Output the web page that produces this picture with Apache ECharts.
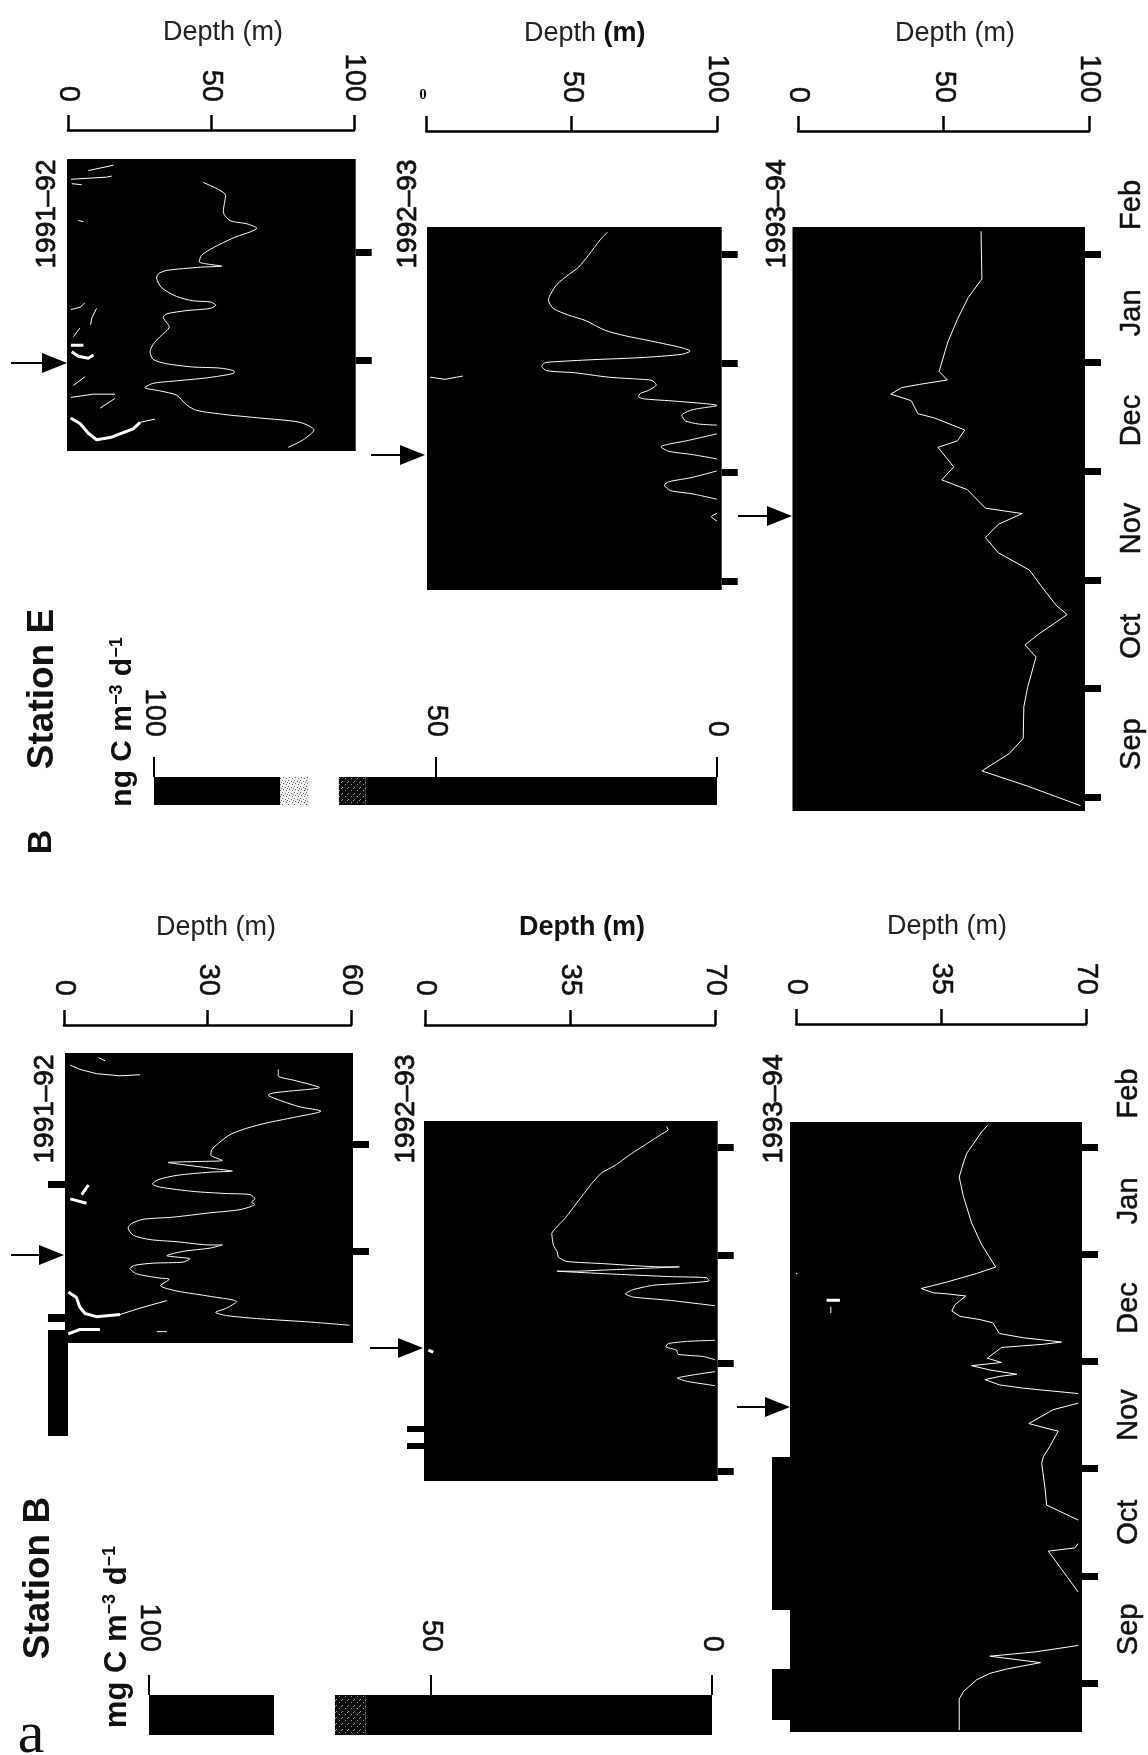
<!DOCTYPE html>
<html><head><meta charset="utf-8">
<style>html,body{margin:0;padding:0;background:#fff}#c{width:1148px;height:1755px}</style>
<script src="https://cdn.jsdelivr.net/npm/echarts@6/dist/echarts.min.js"></script>
</head><body><div id="c"></div>
<script>
const gap = [null, null];
const months = ['Sep','Oct','Nov','Dec','Jan','Feb'];
const depthE = [0, 50, 100];
const depthB91 = [0, 30, 60];
const depthB = [0, 35, 70];
const rateTicks = [0, 50, 100];
const segE = [62.4, 4.8, 5.3, 5.1, 22.4];
const segB = [61.5, 5.5, 10.8, 0, 22.2];

const lineE91 = [[47.3,5.64],[55.1,5.52],[54.3,5.37],[56.6,5.29],[62.5,5.26],[66,5.22],[57.8,5.13],[50.8,5.04],[46.7,4.97],[45.9,4.91],[48.5,4.89],[53.7,4.87],[46.2,4.86],[34.5,4.83],[31.6,4.8],[31,4.76],[32.8,4.67],[38,4.59],[43.8,4.55],[49.7,4.54],[51.7,4.51],[49.7,4.48],[41.5,4.46],[34.5,4.43],[33.3,4.4],[35.4,4.31],[32.2,4.22],[29.8,4.15],[28.7,4.08],[29.8,4.01],[34.5,3.97],[43.8,3.94],[53.1,3.93],[58.2,3.9],[57.8,3.88],[48.5,3.84],[36.8,3.81],[29.8,3.79],[26.9,3.75],[32.2,3.72],[38,3.68],[41.5,3.59],[45,3.54],[55.5,3.5],[67.1,3.47],[81.1,3.43],[86,3.36],[82.3,3.27],[77,3.2]];
const thinE91 = [[1,5.67],[13.5,5.69],[15.3,5.7],gap,[7.1,5.75],[15.9,5.8],gap,[1.3,5.63],[4.8,5.62],gap,[3.6,5.29],[5.4,5.28],gap,[1,4.47],[4.2,4.49],[5.9,4.53],gap,[10,4.48],[8.3,4.39],[7.9,4.33],gap,[4.2,4.3],[1.9,4.22],gap,[1.9,3.77],[5.9,3.85],gap,[1,3.66],[8.9,3.69],[16.4,3.69],gap,[11.2,3.56],[16.4,3.65],gap,[25.2,3.43],[30.4,3.46]];
const thickE91 = [[0.9,3.47],[4.2,3.42],[7.1,3.33],[10,3.27],[14.7,3.29],[22.8,3.37],[25.2,3.43],gap,[1,4.14],[5.4,4.14],gap,[1.3,4.08],[3.6,4.04],[7.1,4.02],[8.9,4.05]];

const lineE92 = [[62.3,5.2],[59.8,5.13],[55.8,4.99],[52.4,4.88],[48.9,4.81],[44.9,4.72],[42.9,4.64],[42,4.58],[43.7,4.5],[48.9,4.44],[54.7,4.39],[61.5,4.3],[68.4,4.25],[77.6,4.2],[87.9,4.14],[90.8,4.11],[87.9,4.08],[74.2,4.05],[56.9,4.03],[43.2,4.01],[40.6,4],[39.7,3.97],[41.4,3.93],[51.2,3.91],[62.7,3.87],[74.2,3.85],[77.6,3.84],[79.1,3.8],[76.5,3.75],[73.6,3.72],[73,3.69],[75.3,3.67],[85.6,3.65],[100,3.61],[91.4,3.57],[87.9,3.52],[89.1,3.47],[93.7,3.44],[100,3.43],gap,[100,3.35],[90.2,3.29],[80.7,3.23],[83.4,3.19],[91.4,3.16],[100,3.12],gap,[100,3.01],[91.4,2.95],[83.4,2.91],[81.9,2.88],[83.9,2.83],[91.4,2.8],[100,2.75],gap,[100,2.62],[98,2.59],[100,2.55]];
const thinE92 = [[1.3,3.87],[6.4,3.85],[10.4,3.87],[12.5,3.88]];

const lineE93 = [[62.9,5.21],[63.2,4.77],[58.5,4.6],[54.8,4.4],[51.5,4.19],[48.5,3.92],[51.3,3.84],[41.8,3.8],[35.6,3.77],[31.9,3.71],[38.9,3.65],[41.2,3.53],[46.9,3.49],[57.3,3.38],[54.8,3.28],[48.1,3.22],[53.5,3.04],[49.4,2.92],[58.2,2.83],[64.4,2.66],[77,2.61],[68.8,2.51],[64.4,2.39],[68.8,2.25],[79.5,2.09],[84.5,1.91],[88.9,1.76],[92.5,1.68],[82.7,1.5],[78,1.4],[81.8,1.29],[78.9,1.01],[77.6,0.83],[77.4,0.54],[72.6,0.4],[63.2,0.24],[78.9,0.1],[97.1,-0.08]];

const lineB91 = [[44.8,5.7],[44.8,5.64],[47.9,5.6],[51.4,5.56],[53.4,5.53],[47.9,5.5],[43.8,5.48],[42.7,5.46],[45.2,5.41],[49.3,5.35],[53.7,5.31],[47.9,5.25],[42.4,5.2],[38.2,5.15],[34.7,5.09],[32.3,5.01],[30.9,4.95],[30.7,4.9],[33.1,4.85],[28.4,4.84],[21.8,4.83],[24.9,4.81],[31.9,4.77],[35.2,4.75],[30.5,4.74],[23.6,4.71],[19.7,4.67],[18.5,4.63],[20.1,4.6],[27,4.56],[34,4.54],[38.9,4.53],[39.9,4.49],[39.2,4.46],[39.9,4.44],[36.8,4.39],[30.5,4.36],[22.9,4.32],[16.6,4.3],[14.1,4.26],[13.4,4.22],[14.5,4.15],[18,4.11],[23.6,4.09],[30.5,4.06],[33.1,4.06],[30.5,4.03],[24.9,4],[21.5,3.96],[26.3,3.93],[24.9,3.9],[18.7,3.89],[14.8,3.87],[13.8,3.84],[15.2,3.79],[20.1,3.75],[22,3.74],[20.2,3.68],[23.6,3.63],[30.5,3.58],[36.1,3.53],[34,3.47],[31.7,3.43],[34,3.4],[41,3.37],[51.4,3.34],[59.7,3.31]];
const thinB91 = [[11.7,3.41],[15.9,3.47],[21.5,3.54],gap,[19.4,3.25],[21.5,3.25],gap,[7.2,5.81],[8.6,5.78],gap,[1.3,5.74],[3.3,5.7],[6.8,5.66],[11.7,5.64],[15.9,5.65]];
const thickB91 = [[0.9,3.62],[2.6,3.57],[3.3,3.48],[4.4,3.42],[6.8,3.39],[11.7,3.41],gap,[0.9,3.23],[3.3,3.27],[7.5,3.27],gap,[5.1,4.62],[3.7,4.53],gap,[1.3,4.49],[4.7,4.45]];

const lineB92 = [[58.3,5.19],[58.7,5.16],[56.7,5.11],[53.5,5.03],[49.5,4.93],[45.9,4.83],[42.6,4.76],[40.2,4.66],[38.2,4.56],[36.2,4.46],[33.8,4.34],[31.8,4.26],[30.6,4.2],[31,4.09],[31.9,4.03],[32.2,3.98],[34.2,3.94],[43,3.92],[51.1,3.9],[56.7,3.89],[61.4,3.89],[55.1,3.88],[43,3.86],[36.6,3.85],[31.9,3.85],[36.6,3.84],[47.1,3.82],[59.1,3.8],[68,3.79],[68.6,3.76],[63.2,3.74],[55.1,3.72],[50.3,3.68],[48.3,3.64],[50.3,3.61],[59.1,3.58],[70,3.53],gap,[70,3.21],[63.2,3.2],[58.7,3.18],[58.1,3.15],[60.7,3.12],[61.1,3.08],[67.2,3.06],[70,3.03],gap,[70,2.92],[64.8,2.89],[60.9,2.86],[63.2,2.83],[70,2.79]];
const thickB92 = [[0.8,3.12],[2,3.1]];

const lineB93 = [[46.2,5.2],[44.8,5.14],[43.2,5.05],[41.2,4.94],[40.4,4.85],[39.4,4.72],[40.4,4.54],[42.4,4.29],[44.8,4.09],[48.2,3.88],[43.6,3.82],[36.4,3.74],[30.2,3.68],[33.1,3.64],[36.4,3.63],[41,3.61],[38.4,3.53],[37.6,3.47],[39.6,3.42],[44.4,3.39],[47.5,3.36],[49.1,3.26],[54.9,3.22],[59.7,3.2],[64.1,3.18],[59.7,3.16],[49.6,3.13],[46.2,3.03],[49.6,2.99],[42.4,2.96],[46.8,2.92],[53.3,2.88],[49.2,2.86],[45.6,2.83],[49.2,2.78],[54.9,2.75],[68.1,2.7],gap,[68.1,2.61],[62.1,2.55],[56.2,2.42],[62.1,2.36],[63.3,2.35],[61.3,2.21],[59.7,2.11],[59.3,2.05],[60.1,1.82],[60.5,1.66],[68.1,1.52],gap,[68.1,1.3],[67.3,1.26],[60.9,1.23],[68.1,0.85],gap,[68.1,0.35],[57.7,0.29],[46.8,0.25],[59,0.19],[50.8,0.13],[46.8,0.09],[43.6,0.03],[40.4,-0.08],[39.4,-0.15],[39.4,-0.44]];
const thinB93 = [[0,3.82],[0.3,3.82],gap,[8.4,3.51],[8.4,3.45]];
const thickB93 = [[7.4,3.57],[10.6,3.57]];

// geometry: rect = black panel [left,right,top,bottom]; axis = depth scale [left,right,lineY]
const panels = [
 {rect:[67,355.7,159,451],  axis:[68,354,130],  t:[3.166,5.857], ticks:[4,5],         depth:depthE, name:'Depth (m)', nameDx:12, margin:28, smooth:0.25, lines:[lineE91], extra:[thinE91], thick:thickE91},
 {rect:[427,721.7,227,590], axis:[426.4,717,131], t:[1.917,5.248], ticks:[2,3,4,5],   depth:depthE, name:'Depth {b|(m)}', nameDx:13, margin:28, smooth:0.25, lines:[lineE92], extra:[thinE92], noZero:true},
 {rect:[792.5,1085,227,811],axis:[798,1089,131], t:[-0.129,5.249], ticks:[0,1,2,3,4,5], depth:depthE, name:'Depth (m)', nameDx:11.5, margin:28, smooth:0, lines:[lineE93], extra:[]},
 {rect:[65,353,1053,1343],  axis:[64,351,1025], t:[3.144,5.853], ticks:[4,5],         depth:depthB91, name:'Depth (m)', nameDx:8.5, margin:29, smooth:0.25, lines:[lineB91], extra:[thinB91], thick:thickB91},
 {rect:[424,717.7,1121,1481],axis:[425,715,1025],t:[1.907,5.241], ticks:[2,3,4,5],    depth:depthB, name:'{c|Depth} {b|(m)}', nameDx:12, margin:29, smooth:0.15, lines:[lineB92], extra:[], thick:thickB92},
 {rect:[790,1082,1122,1732],axis:[796,1086,1024],t:[-0.457,5.233], ticks:[0,1,2,3,4,5], depth:depthB, name:'Depth (m)', nameDx:6, margin:29, smooth:0, lines:[lineB93], extra:[thinB93], thick:thickB93}
];
const FONT = '"Liberation Sans", Arial, sans-serif';
const W = 1148, H = 1755;
function box(l,r,t,b){return {left:l, top:t, width:r-l, height:b-t, show:false, outerBoundsMode:'none', containLabel:false};}

const grid=[], xAxis=[], yAxis=[], series=[];
const tickLabelStyle={fontFamily:FONT,fontSize:29,color:'#111',rotate:90,textBorderColor:'#111',textBorderWidth:0.5};

panels.forEach(p=>{
  const bg = grid.length;
  grid.push(Object.assign(box(p.rect[0],p.rect[1],p.rect[2],p.rect[3]),{show:true,backgroundColor:'#000',borderWidth:0}));
  xAxis.push({gridIndex:bg,type:'value',show:false,min:0,max:1,splitLine:{show:false}});
  yAxis.push({gridIndex:bg,type:'value',position:'right',min:p.t[0],max:p.t[1],scale:true,
    axisLine:{show:false,onZero:false},axisLabel:{show:false},splitLine:{show:false},
    axisTick:{show:true,length:16,customValues:p.ticks,lineStyle:{color:'#000',width:7}}});
  const g = grid.length;
  grid.push(box(p.axis[0],p.axis[1],p.rect[2],p.rect[3]));
  const M = p.depth[2];
  xAxis.push({gridIndex:g,type:'value',position:'top',offset:p.rect[2]-p.axis[2],min:0,max:M,interval:M/2,
    splitLine:{show:false},
    axisLine:{show:true,onZero:false,lineStyle:{color:'#000',width:2.5}},
    axisTick:{show:true,length:15,lineStyle:{color:'#000',width:2.5}},
    axisLabel:Object.assign({},tickLabelStyle,{margin:p.margin,formatter:v=>(p.noZero&&v===0)?'':String(v)}),
    name:p.name,nameLocation:'middle',nameGap:84,nameRotate:0,
    nameTextStyle:{fontFamily:FONT,fontSize:27,color:'#222',padding:[0,0,0,2*p.nameDx],
      rich:{b:{fontFamily:FONT,fontSize:27,fontWeight:'bold',color:'#111'},c:{fontFamily:FONT,fontSize:27,fontWeight:'bold',color:'#111'}}}});
  yAxis.push({gridIndex:g,type:'value',show:false,min:p.t[0],max:p.t[1],scale:true,splitLine:{show:false}});
  p.lines.forEach(d=>series.push({type:'line',xAxisIndex:g,yAxisIndex:g,data:d,showSymbol:false,symbol:'none',smooth:p.smooth,
    silent:true,connectNulls:false,lineStyle:{color:'#fff',width:1},z:5}));
  p.extra.forEach(d=>series.push({type:'line',xAxisIndex:g,yAxisIndex:g,data:d,showSymbol:false,symbol:'none',
    silent:true,connectNulls:false,lineStyle:{color:'#fff',width:1},z:5}));
  if(p.thick) series.push({type:'line',xAxisIndex:g,yAxisIndex:g,data:p.thick,showSymbol:false,symbol:'none',
    silent:true,connectNulls:false,lineStyle:{color:'#fff',width:3},z:5});
});

// month labels, one category axis per station
[[1085,151,798,32],[1082,1040,1683,32]].forEach(([xr,t,b,m])=>{
  const g=grid.length;
  grid.push(box(xr-300,xr,t,b));
  xAxis.push({gridIndex:g,type:'value',show:false,min:0,max:1});
  yAxis.push({gridIndex:g,type:'category',position:'right',data:months,
    axisLine:{show:false,onZero:false},axisTick:{show:false},
    axisLabel:{fontFamily:FONT,fontSize:29,color:'#111',rotate:90,margin:m,interval:0,textBorderColor:'#111',textBorderWidth:0.5}});
});

// dither patterns for colour bar
function pattern(bg,fg,pts){const c=document.createElement('canvas');c.width=c.height=6;const x=c.getContext('2d');
  x.fillStyle=bg;x.fillRect(0,0,6,6);x.fillStyle=fg;pts.forEach(([a,b])=>x.fillRect(a,b,1,1));return {image:c,repeat:'repeat'};}
const lightP=pattern('#f4f4f4','#666',[[0,0],[3,1],[1,3],[4,4],[5,2]]);
const darkP=pattern('#0a0a0a','#999',[[0,1],[3,4],[5,2]]);
const segColours=['#000',darkP,'#fff',lightP,'#000'];
// colour bars
[[segE,154,717,777,805,40],[segB,149,712,1695,1735,43]].forEach(([seg,l,r,t,b,m],k)=>{
  const g=grid.length;
  grid.push(box(l,r,t,b));
  xAxis.push({gridIndex:g,type:'value',position:'top',inverse:true,min:0,max:100,interval:50,splitLine:{show:false},
    axisLine:{show:false},axisTick:{show:true,length:20,lineStyle:{color:'#000',width:2}},
    axisLabel:Object.assign({},tickLabelStyle,{margin:m})});
  yAxis.push({gridIndex:g,type:'category',show:false,data:['rate']});
  seg.forEach((v,i)=>series.push({type:'bar',xAxisIndex:g,yAxisIndex:g,stack:'bar'+k,data:[v],barWidth:'100%',silent:true,
    itemStyle:{color:segColours[i]}}));
});

// annotations
const graphic=[];
function vtext(s,x,y,size,bold,extra){graphic.push({type:'text',x,y,rotation:Math.PI/2,silent:true,z:20,
  style:Object.assign({text:s,fontFamily:FONT,fontSize:size,fontWeight:bold?'bold':'normal',fill:'#111',align:'center',verticalAlign:'middle'},extra||{})});}
[['1991\u201392',47,214],['1992\u201393',408,214],['1993\u201394',777,214],['1991\u201392',45,1109],['1992\u201393',406,1109],['1993\u201394',774,1109]]
  .forEach(a=>vtext(a[0],a[1],a[2],28,false,{stroke:'#111',lineWidth:0.8}));
vtext('Station E',43,689,37,true);
vtext('Station B',39,1578,37,true);
vtext('B',42,842,34,true);
const supRich={s:{fontFamily:FONT,fontSize:18,fontWeight:'bold',fill:'#111',verticalAlign:'top',padding:[0,0,12,0]}};
vtext('ng C m{s|\u22123} d{s|\u22121}',123,722,30,true,{rich:supRich});
vtext('mg C m{s|\u22123} d{s|\u22121}',117,1637,31,true,{rich:supRich});
graphic.push({type:'text',x:31,y:1736,silent:true,style:{text:'a',fontFamily:'"Liberation Serif",serif',fontSize:60,fill:'#111',align:'center',verticalAlign:'middle'}});
graphic.push({type:'text',x:423,y:95,silent:true,style:{text:'0',fontFamily:'"Liberation Serif",serif',fontSize:15,fontWeight:'bold',fill:'#111',align:'center',verticalAlign:'middle'}});
// arrows: [tailX, tipX, y]
[[11,67,363],[371,425,455],[738,792,516],[11,64,1255],[370,423,1348],[737,790,1407]].forEach(([a,b,y])=>{
  graphic.push({type:'line',silent:true,shape:{x1:a,y1:y,x2:b-20,y2:y},style:{stroke:'#000',lineWidth:2}});
  graphic.push({type:'polygon',silent:true,shape:{points:[[b,y],[b-25,y-10],[b-25,y+10]]},style:{fill:'#000'}});
});
// stray black tabs beside the panels
[[48,1181,17,7],[48,1314,17,8],[48,1330,20,106],[407,1426,17,6],[407,1443,17,6],[772,1457,18,153],[772,1669,18,51]].forEach(([x,y,w,h])=>{
  graphic.push({type:'rect',silent:true,shape:{x,y,width:w,height:h},style:{fill:'#000'}});
});

const chart=echarts.init(document.getElementById('c'),null,{renderer:'canvas',width:W,height:H});
chart.setOption({animation:false,backgroundColor:'#fff',grid,xAxis,yAxis,series,graphic});
</script></body></html>
